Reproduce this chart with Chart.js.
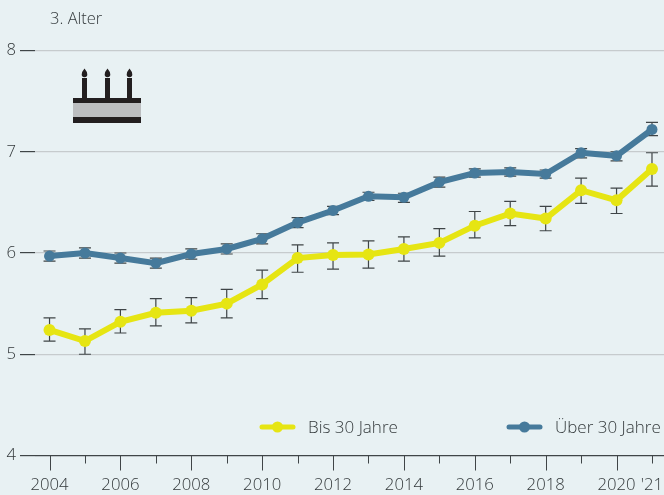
<!DOCTYPE html>
<html lang="de">
<head>
<meta charset="utf-8">
<title>3. Alter</title>
<script src="https://cdn.jsdelivr.net/npm/chart.js@4"></script>
<style>
    html, body { margin: 0; padding: 0; background: #e8f1f3; }
    canvas { display: block; }
</style>
</head>
<body>
<canvas id="age-chart" width="664" height="495"></canvas>
<script>
// Data
const years = [2004, 2005, 2006, 2007, 2008, 2009, 2010, 2011, 2012, 2013, 2014, 2015, 2016, 2017, 2018, 2019, 2020, 2021];
const under30 = [5.24, 5.13, 5.32, 5.41, 5.43, 5.50, 5.69, 5.95, 5.98, 5.985, 6.04, 6.10, 6.27, 6.39, 6.34, 6.62, 6.52, 6.83];
const under30High = [5.36, 5.25, 5.44, 5.55, 5.56, 5.64, 5.83, 6.08, 6.10, 6.12, 6.16, 6.24, 6.41, 6.51, 6.46, 6.74, 6.64, 6.99];
const under30Low = [5.13, 5.00, 5.21, 5.28, 5.31, 5.36, 5.55, 5.81, 5.84, 5.85, 5.92, 5.97, 6.15, 6.27, 6.22, 6.49, 6.39, 6.66];
const over30 = [5.97, 6.00, 5.95, 5.90, 5.99, 6.04, 6.14, 6.30, 6.42, 6.56, 6.55, 6.70, 6.79, 6.80, 6.78, 6.99, 6.96, 7.22];
const over30High = [6.02, 6.05, 6.00, 5.95, 6.04, 6.09, 6.19, 6.35, 6.46, 6.60, 6.59, 6.75, 6.83, 6.84, 6.82, 7.03, 7.00, 7.29];
const over30Low = [5.92, 5.95, 5.90, 5.85, 5.94, 5.99, 6.09, 6.25, 6.38, 6.52, 6.50, 6.65, 6.75, 6.76, 6.74, 6.94, 6.91, 7.16];
const yTicks = [4, 5, 6, 7, 8];

const YELLOW = '#e6e513';
const BLUE = '#467a9b';
const TEXT = '#33393b';
const FONT = '"Open Sans", sans-serif';

// Whiskers go under the lines
const errorBars = {
    id: 'errorBars',
    beforeDatasetsDraw(chart) {
        const { ctx, scales: { x, y } } = chart;
        const sets = [[under30High, under30Low], [over30High, over30Low]];
        ctx.save();
        ctx.strokeStyle = '#3f4547';
        ctx.lineWidth = 1.2;
        sets.forEach(([high, low]) => {
            years.forEach((year, i) => {
                const px = x.getPixelForValue(year);
                const top = y.getPixelForValue(high[i]);
                const bottom = y.getPixelForValue(low[i]);
                ctx.beginPath();
                ctx.moveTo(px, top);
                ctx.lineTo(px, bottom);
                ctx.moveTo(px - 6, top);
                ctx.lineTo(px + 6, top);
                ctx.moveTo(px - 6, bottom);
                ctx.lineTo(px + 6, bottom);
                ctx.stroke();
            });
        });
        ctx.restore();
    }
};

// Long ticks on even years, short ones on odd years and '21
const yearTicks = {
    id: 'yearTicks',
    afterDraw(chart) {
        const { ctx, scales: { x }, chartArea } = chart;
        ctx.save();
        ctx.strokeStyle = '#3f4547';
        ctx.lineWidth = 1;
        years.forEach(year => {
            const px = Math.round(x.getPixelForValue(year)) + 0.5;
            ctx.beginPath();
            ctx.moveTo(px, chartArea.bottom);
            ctx.lineTo(px, chartArea.bottom + (year % 2 === 0 ? 15 : 8));
            ctx.stroke();
        });
        ctx.restore();
    }
};

// Title, legend and the cake icon
const decorations = {
    id: 'decorations',
    afterDraw(chart) {
        const { ctx } = chart;
        ctx.save();
        ctx.fillStyle = TEXT;
        ctx.textBaseline = 'alphabetic';
        ctx.font = '300 16.5px ' + FONT;
        ctx.fillText('3. Alter', 50, 24);

        ctx.font = '300 17px ' + FONT;
        chart.data.datasets.forEach((ds, i) => {
            const left = i === 0 ? 260 : 507;
            ctx.strokeStyle = ds.borderColor;
            ctx.fillStyle = ds.borderColor;
            ctx.lineWidth = 5;
            ctx.lineCap = 'round';
            ctx.beginPath();
            ctx.moveTo(left + 2, 427);
            ctx.lineTo(left + 33, 427);
            ctx.stroke();
            ctx.beginPath();
            ctx.arc(left + 17.5, 427, 5.5, 0, Math.PI * 2);
            ctx.fill();
            ctx.fillStyle = TEXT;
            ctx.fillText(ds.label, left + 48, 433);
        });

        ctx.fillStyle = '#231f20';
        ctx.fillRect(73, 98, 68, 5);
        ctx.fillRect(73, 117, 68, 6);
        ctx.fillStyle = '#bcbec0';
        ctx.fillRect(73, 103, 68, 14);
        ctx.fillStyle = '#231f20';
        [84.5, 107.5, 129.5].forEach(cx => {
            ctx.fillRect(cx - 2.5, 78, 5, 20);
            ctx.beginPath();
            ctx.moveTo(cx, 68.5);
            ctx.quadraticCurveTo(cx + 3, 72, cx + 2.8, 74.5);
            ctx.arc(cx, 74.5, 2.8, 0, Math.PI);
            ctx.quadraticCurveTo(cx - 3, 72, cx, 68.5);
            ctx.fill();
        });
        ctx.restore();
    }
};

new Chart(document.getElementById('age-chart').getContext('2d'), {
    type: 'line',
    data: {
        datasets: [
            {
                label: 'Bis 30 Jahre',
                data: years.map((year, i) => ({ x: year, y: under30[i] })),
                borderColor: YELLOW,
                backgroundColor: YELLOW,
                borderWidth: 6,
                pointRadius: 6,
                pointBorderWidth: 0,
                tension: 0
            },
            {
                label: 'Über 30 Jahre',
                data: years.map((year, i) => ({ x: year, y: over30[i] })),
                borderColor: BLUE,
                backgroundColor: BLUE,
                borderWidth: 6,
                pointRadius: 5.5,
                pointBorderWidth: 0,
                tension: 0
            }
        ]
    },
    plugins: [errorBars, yearTicks, decorations],
    options: {
        responsive: false,
        animation: false,
        layout: { autoPadding: false, padding: { top: 50.5, right: 0, bottom: 0, left: 0 } },
        plugins: {
            legend: { display: false },
            tooltip: { enabled: false }
        },
        scales: {
            x: {
                type: 'linear',
                min: 2003.59,
                max: 2021.339,
                afterFit(scale) {
                    scale.height = 39.5;
                    // the '21 label must not push the plot away from the right edge
                    scale.paddingRight = 0;
                },
                border: { display: true, color: '#3f4547', width: 1 },
                grid: { display: false },
                ticks: {
                    stepSize: 1,
                    autoSkip: false,
                    maxRotation: 0,
                    includeBounds: false,
                    padding: 12,
                    color: TEXT,
                    font: { family: FONT, size: 16.7, weight: 300 },
                    callback(value) {
                        if (value === 2021) return "'21";
                        return value % 2 === 0 ? String(value) : '';
                    }
                }
            },
            y: {
                min: 4,
                max: 8,
                afterFit(scale) { scale.width = 35; },
                afterBuildTicks(scale) { scale.ticks = yTicks.map(value => ({ value })); },
                border: { display: false },
                grid: {
                    tickLength: 15,
                    lineWidth: 1.2,
                    color: ctx => ctx.tick.value === 4 ? '#3f4547' : '#c6cbcd',
                    tickColor: '#3f4547'
                },
                ticks: {
                    padding: 4,
                    color: TEXT,
                    font: { family: FONT, size: 16.7, weight: 300 }
                }
            }
        }
    }
});
</script>
</body>
</html>
